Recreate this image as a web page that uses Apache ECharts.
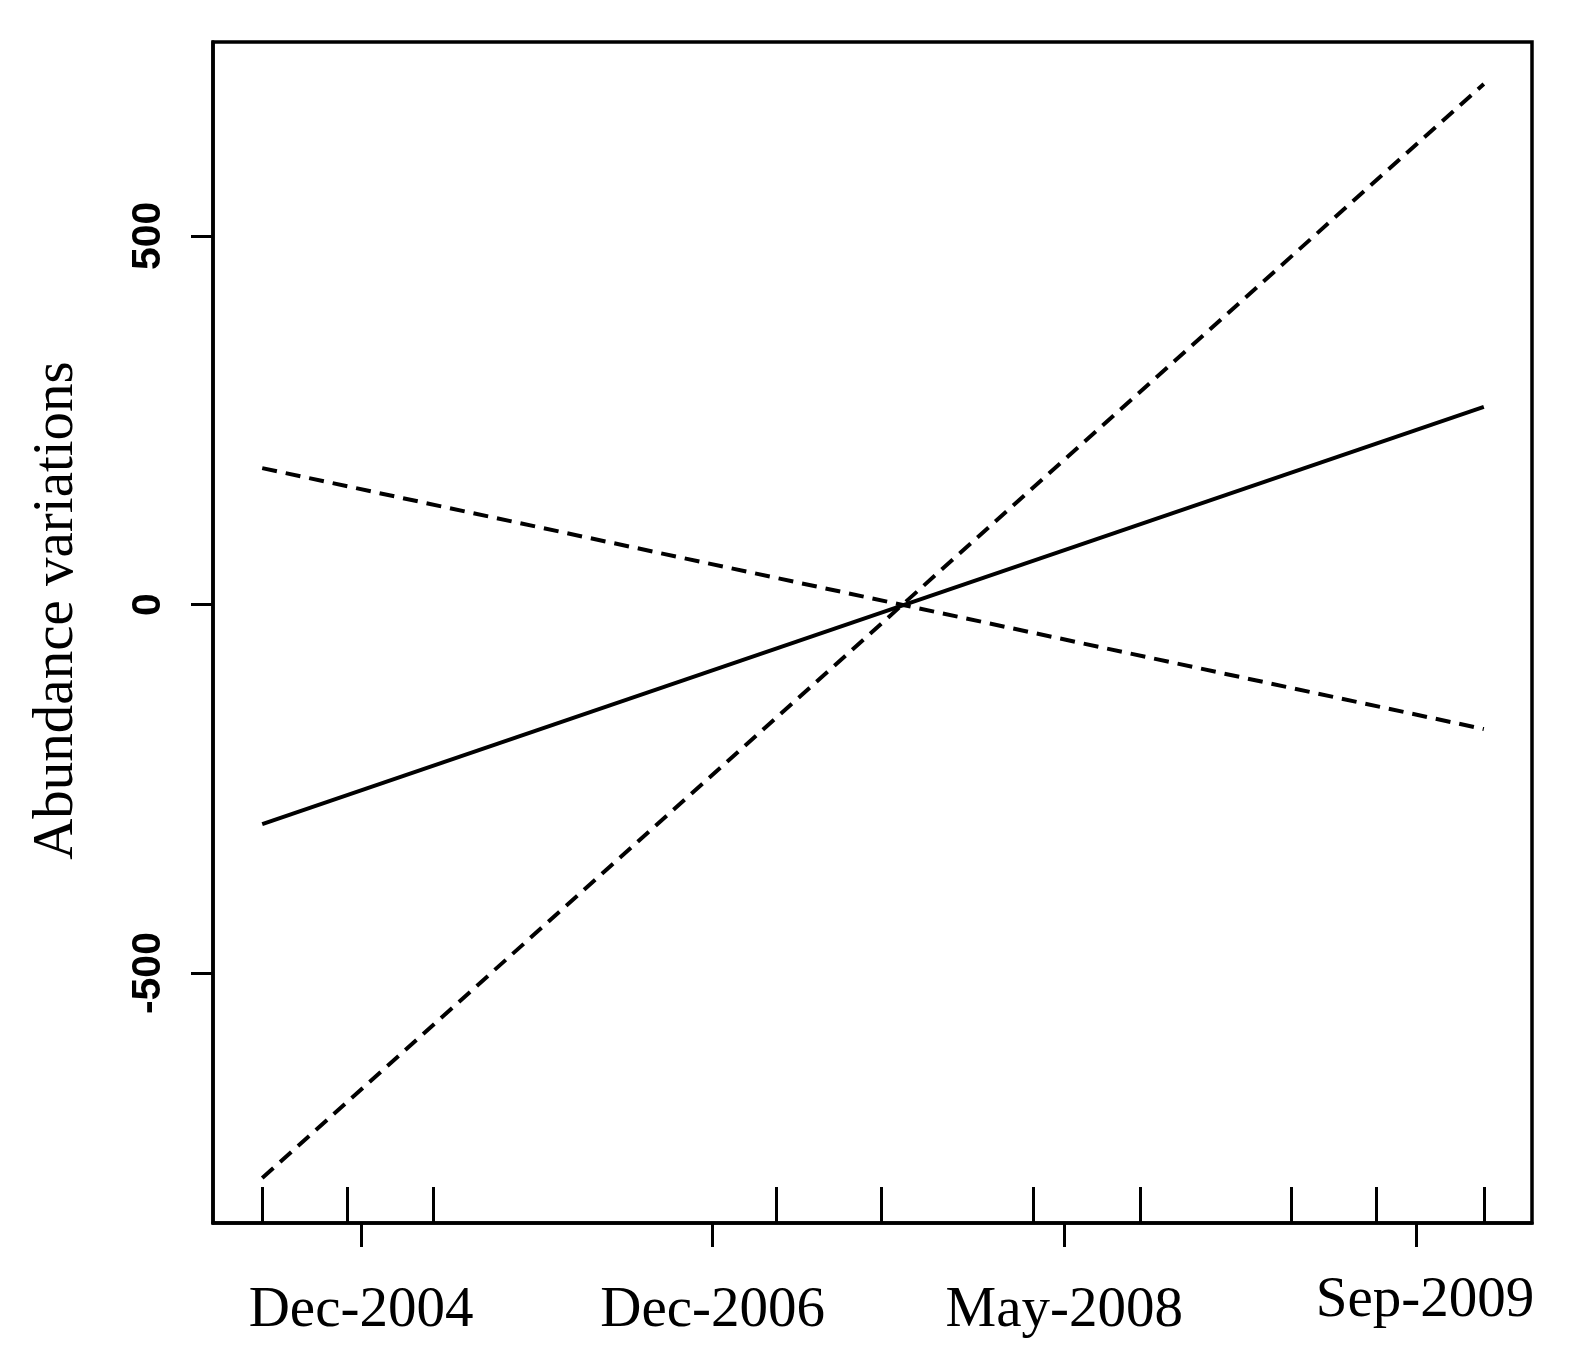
<!DOCTYPE html>
<html lang="en" style="width: 100%; height: 100%; background-color: #ffffff;">
<head>
    <meta charset="UTF-8">
    <title>Abundance variations</title>
    <script src="https://cdn.jsdelivr.net/npm/echarts@6/dist/echarts.min.js"></script>
</head>
<body style="margin: 0; width: 100%; height: 100%;">
<div id="main" style="width: 1575px; height: 1363px;"></div>

<script type="text/javascript">
    // x positions are in axis units: the labelled ticks sit at 1, 2, 3, 4
    var xTickPositions = [1, 2, 3, 4];
    var xTickLabels = ['Dec-2004', 'Dec-2006', 'May-2008', 'Sep-2009'];
    // sampling dates, drawn as small inward ticks (rug)
    var rugPositions = [0.719, 0.960, 1.205, 2.180, 2.479, 2.911, 3.215, 3.644, 3.886, 4.193];
    var yTickValues = [-500, 0, 500];

    // each fitted trend runs from the first to the last sampling date
    var lineX = [0.719, 4.193];
    var solidTrend = [-298, 268];
    var dashedFalling = [185, -169];
    var dashedRising = [-778, 706];

    var xMin = 0.579, xMax = 4.330;
    var yMin = -839, yMax = 763;

    function toPairs(ys) {
        return lineX.map(function (x, i) {
            return [x, ys[i]];
        });
    }

    var myChart = echarts.init(document.getElementById('main'), null, {renderer: 'canvas'});

    var black = '#000000';
    var dash = [15, 9];

    var option = {
        backgroundColor: '#ffffff',
        animation: false,
        grid: {
            left: 213,
            top: 42,
            right: 43,
            bottom: 140,
            show: true,
            borderColor: black,
            borderWidth: 3.5,
            backgroundColor: 'transparent'
        },
        xAxis: [
            {
                type: 'value',
                position: 'bottom',
                min: xMin,
                max: xMax,
                splitLine: {show: false},
                axisLine: {show: true, onZero: false, lineStyle: {color: black, width: 3.5}},
                axisTick: {
                    show: true,
                    length: 24,
                    customValues: xTickPositions,
                    lineStyle: {color: black, width: 3}
                },
                axisLabel: {
                    show: true,
                    customValues: xTickPositions,
                    margin: 50,
                    color: black,
                    fontFamily: 'Liberation Serif',
                    fontSize: 57,
                    formatter: function (v) {
                        var i = xTickPositions.indexOf(v);
                        if (i < 0) return '';
                        // the last label sits a little higher and to the right
                        return i === xTickLabels.length - 1
                            ? '{last|' + xTickLabels[i] + '}'
                            : '{std|' + xTickLabels[i] + '}';
                    },
                    rich: {
                        std: {padding: [10, 0, 0, 0]},
                        last: {padding: [0, 0, 0, 18]}
                    }
                }
            },
            {
                type: 'value',
                position: 'bottom',
                min: xMin,
                max: xMax,
                splitLine: {show: false},
                axisLine: {show: false, onZero: false},
                axisTick: {
                    show: true,
                    inside: true,
                    length: 36,
                    customValues: rugPositions,
                    lineStyle: {color: black, width: 3}
                },
                axisLabel: {show: false}
            }
        ],
        yAxis: {
            type: 'value',
            min: yMin,
            max: yMax,
            splitLine: {show: false},
            axisLine: {show: true, onZero: false, lineStyle: {color: black, width: 3.5}},
            axisTick: {
                show: true,
                length: 22,
                customValues: yTickValues,
                lineStyle: {color: black, width: 3}
            },
            axisLabel: {
                show: true,
                customValues: yTickValues,
                rotate: 90,
                margin: 44,
                color: black,
                fontFamily: 'Liberation Sans',
                fontWeight: 'bold',
                fontSize: 41
            },
            name: 'Abundance variations',
            nameLocation: 'middle',
            nameRotate: 90,
            nameGap: 127,
            nameTextStyle: {
                color: black,
                fontFamily: 'Liberation Serif',
                fontSize: 57,
                padding: [0, 0, 0, 44]
            }
        },
        series: [
            {
                name: 'trend',
                type: 'line',
                xAxisIndex: 0,
                data: toPairs(solidTrend),
                symbol: 'none',
                lineStyle: {color: black, width: 4, type: 'solid'}
            },
            {
                name: 'lower',
                type: 'line',
                xAxisIndex: 0,
                data: toPairs(dashedFalling),
                symbol: 'none',
                lineStyle: {color: black, width: 4, type: dash}
            },
            {
                name: 'upper',
                type: 'line',
                xAxisIndex: 0,
                data: toPairs(dashedRising),
                symbol: 'none',
                lineStyle: {color: black, width: 4, type: dash}
            }
        ]
    };

    myChart.setOption(option);
</script>
</body>
</html>
